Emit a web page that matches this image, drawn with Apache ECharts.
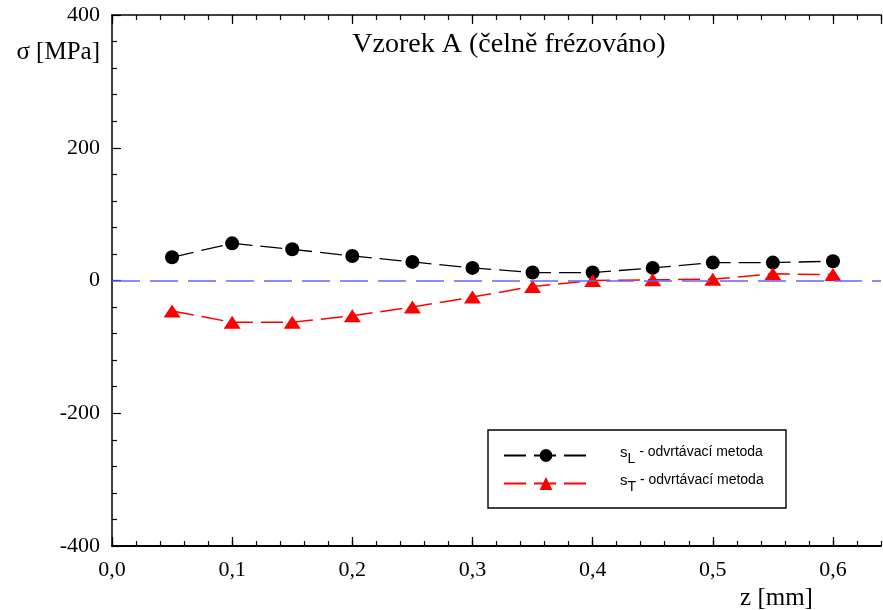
<!DOCTYPE html>
<html><head><meta charset="utf-8">
<script src="https://cdn.jsdelivr.net/npm/echarts@6/dist/echarts.min.js"></script>
<style>html,body{margin:0;padding:0;background:#fff}#c{width:883px;height:610px}</style>
</head><body><div id="c"></div>
<script>
const zValues = [0.05, 0.10, 0.15, 0.20, 0.25, 0.30, 0.35, 0.40, 0.45, 0.50, 0.55, 0.60];
const sigmaL  = [35, 56, 47, 37, 28, 19, 12, 12, 19, 27, 27, 29];
const sigmaT  = [-46, -63, -63, -53, -40, -25, -9, 0, 1, 2, 10, 9];
const seriesNames = ['sL - odvrtávací metoda', 'sT - odvrtávací metoda'];
const titleText = 'Vzorek A (čelně frézováno)';
const xName = 'z [mm]';
const yName = 'σ [MPa]';

const serif = 'Liberation Serif';
const chart = echarts.init(document.getElementById('c'));
const xFmt = v => v.toFixed(1).replace('.', ',');
const baseX = {type: 'value', min: 0, max: 0.64, splitLine: {show: false}};
const line = (w, show) => ({show: show !== false, onZero: false, lineStyle: {color: '#000', width: w}});
chart.setOption({
  animation: false,
  backgroundColor: '#fff',
  title: {text: titleText, left: 504, top: 26, textAlign: 'center',
    textStyle: {fontFamily: serif, fontSize: 28, fontWeight: 'normal', color: '#000'}},
  grid: {left: 112, right: 2, top: 15, bottom: 64, containLabel: false, outerBoundsMode: 'none'},
  xAxis: [
    Object.assign({}, baseX, {position: 'bottom', interval: 0.1,
      name: xName, nameLocation: 'middle', nameGap: 38,
      nameTextStyle: {fontFamily: serif, fontSize: 25, color: '#000', padding: [0, 0, 0, 560]},
      axisLine: line(2),
      axisTick: {inside: true, length: 9, lineStyle: {color: '#000', width: 1.3}},
      axisLabel: {margin: 13, fontFamily: serif, fontSize: 22, color: '#000', showMaxLabel: false, formatter: xFmt}}),
    Object.assign({}, baseX, {position: 'bottom', interval: 0.02,
      axisLine: line(1, false), axisLabel: {show: false},
      axisTick: {inside: true, length: 5, lineStyle: {color: '#000', width: 1.2}}}),
    Object.assign({}, baseX, {position: 'top', interval: 0.1,
      axisLine: line(1.5), axisLabel: {show: false},
      axisTick: {inside: true, length: 9, lineStyle: {color: '#000', width: 1.2}}}),
    Object.assign({}, baseX, {position: 'top', interval: 0.02,
      axisLine: line(1, false), axisLabel: {show: false},
      axisTick: {inside: true, length: 5, lineStyle: {color: '#000', width: 1.2}}})
  ],
  yAxis: [{
    type: 'value', min: -400, max: 400, interval: 200, position: 'left',
    name: yName, nameLocation: 'end', nameGap: -37,
    nameTextStyle: {fontFamily: serif, fontSize: 25, color: '#000', align: 'right', verticalAlign: 'middle', padding: [0, 12, 0, 0]},
    splitLine: {show: false},
    axisLine: line(1.5),
    axisTick: {inside: true, length: 9, lineStyle: {color: '#000', width: 1.2}},
    minorTick: {show: true, splitNumber: 5, length: 5, lineStyle: {color: '#000', width: 1.2}},
    axisLabel: {margin: 12, fontFamily: serif, fontSize: 22, color: '#000'}
  }],
  legend: {
    orient: 'vertical', left: 498, top: 440, itemWidth: 84, itemHeight: 16, itemGap: 7,
    data: seriesNames,
    formatter: n => '{s|s}{sub|' + n.charAt(1) + '}{t|' + n.slice(2) + '}',
    textStyle: {padding: [0, 0, 0, 27], color: '#000',
      rich: {
        s: {fontFamily: 'Liberation Sans', fontSize: 15, color: '#000', verticalAlign: 'top'},
        t: {fontFamily: 'Liberation Sans', fontSize: 14, color: '#000', verticalAlign: 'top'},
        sub: {fontFamily: 'Liberation Sans', fontSize: 14, color: '#000', padding: [7, 0, 0, 0], verticalAlign: 'bottom'}
      }}
  },
  graphic: [{type: 'rect', z: 3, shape: {x: 488, y: 430, width: 298, height: 78},
    style: {fill: '#fff', stroke: '#000', lineWidth: 1.4}}],
  series: [
    {name: seriesNames[0], type: 'line', xAxisIndex: 0, z: 3,
      data: zValues.map((z, i) => [z, sigmaL[i]]),
      symbol: 'circle', symbolSize: 14, itemStyle: {color: '#000'},
      lineStyle: {color: '#000', width: 1.3, type: [22, 8]},
      markLine: {silent: true, symbol: 'none', label: {show: false},
        lineStyle: {color: '#6464ff', width: 1.6, type: [28, 10]},
        data: [{yAxis: 0}]}},
    {name: seriesNames[1], type: 'line', xAxisIndex: 0, z: 4,
      data: zValues.map((z, i) => [z, sigmaT[i]]),
      symbol: 'triangle', symbolSize: [17, 13], itemStyle: {color: '#ff0000'},
      lineStyle: {color: '#ff0000', width: 1.5, type: [22, 8]}}
  ]
});
</script></body></html>
